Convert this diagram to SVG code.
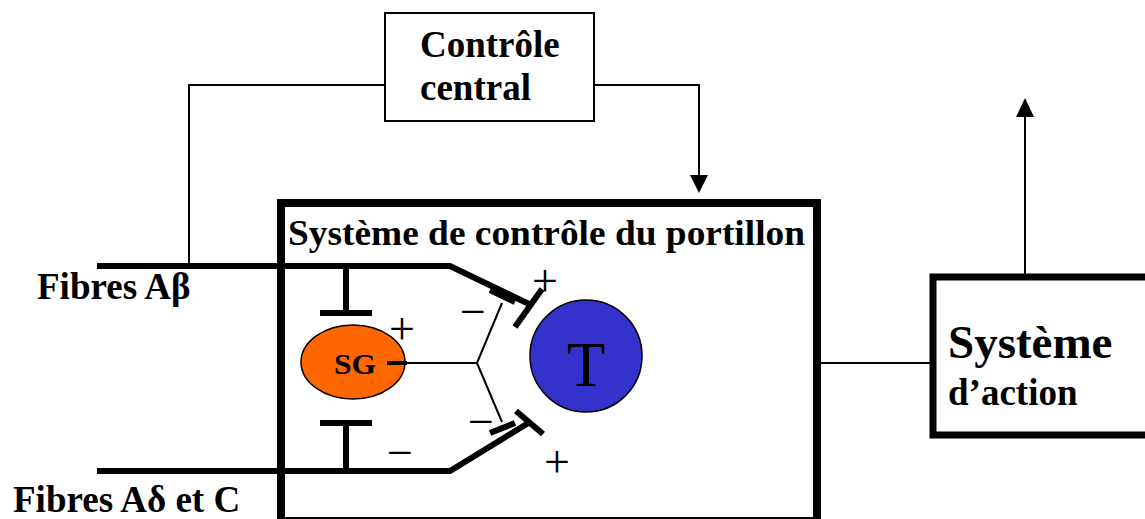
<svg xmlns="http://www.w3.org/2000/svg" width="1145" height="519" viewBox="0 0 1145 519">
<style>
.lbl{font-family:"Liberation Serif","Times New Roman",serif;font-weight:bold;fill:#000}
.sign{font-family:"Liberation Serif","Times New Roman",serif;font-size:46px;fill:#000;text-anchor:middle}
.thin{stroke:#000;stroke-width:2;fill:none}
.fib{stroke:#000;stroke-width:6;fill:none;stroke-linecap:butt}
</style>
<rect width="1145" height="519" fill="#fff"/>

<g id="connectors">
<polyline class="thin" points="385,85 189,85 189,266"/>
<polyline class="thin" points="594,85 699,85 699,176"/>
<path d="M690,175 L708,175 L699,193 Z" fill="#000"/>
<line class="thin" x1="821" y1="363" x2="933" y2="363"/>
<line class="thin" x1="1025" y1="277" x2="1025" y2="116"/>
<path d="M1016,117 L1034,117 L1025,98 Z" fill="#000"/>
</g>

<g id="controle-central">
<rect x="385" y="13" width="209" height="108" fill="#fff" stroke="#000" stroke-width="2"/>
<text class="lbl" x="420" y="57" font-size="37">Contrôle</text>
<text class="lbl" x="420" y="100" font-size="37">central</text>
</g>

<g id="portillon">
<rect x="281" y="203" width="536" height="318" fill="#fff" stroke="#000" stroke-width="8"/>
<text class="lbl" x="288" y="245" font-size="36" textLength="517" lengthAdjust="spacingAndGlyphs">Système de contrôle du portillon</text>
</g>

<g id="fibres-abeta">
<polyline class="fib" points="97,266 450,266 529,304"/>
<line class="fib" x1="515" y1="327" x2="542" y2="289" stroke-width="7"/>
<line class="fib" x1="490" y1="290" x2="515" y2="302" stroke-width="4"/>
<text class="lbl" x="37" y="299" font-size="37">Fibres Aβ</text>
</g>

<g id="fibres-adelta">
<polyline class="fib" points="97,471 450,471 530,422"/>
<line class="fib" x1="516" y1="411" x2="543" y2="434" stroke-width="7"/>
<line class="fib" x1="490" y1="433" x2="515" y2="423" stroke-width="4"/>
<text class="lbl" x="13" y="512" font-size="37">Fibres Aδ et C</text>
</g>

<g id="inhib-haut">
<line class="fib" x1="346" y1="266" x2="346" y2="313"/>
<line class="fib" x1="320" y1="313" x2="372" y2="313"/>
</g>
<g id="inhib-bas">
<line class="fib" x1="346" y1="423" x2="346" y2="471"/>
<line class="fib" x1="320" y1="423" x2="372" y2="423"/>
</g>

<g id="sg">
<ellipse cx="353" cy="362" rx="52" ry="37" fill="#FF6600" stroke="#000" stroke-width="1.5"/>
<text class="lbl" x="355" y="374" font-size="30" text-anchor="middle" textLength="42" lengthAdjust="spacingAndGlyphs">SG</text>
</g>

<g id="sg-branches">
<line x1="387" y1="363" x2="407" y2="363" stroke="#000" stroke-width="4"/>
<polyline class="thin" points="407,363 477,363 502,303"/>
<polyline class="thin" points="477,363 502,422"/>
</g>

<g id="t-cell">
<circle cx="586" cy="356" r="56" fill="#3333CC" stroke="#000" stroke-width="1.5"/>
<text x="586" y="386" font-family="Liberation Serif, Times New Roman, serif" font-size="63" text-anchor="middle" fill="#000">T</text>
</g>

<g id="signs">
<text class="sign" x="545" y="296">+</text>
<text class="sign" x="402" y="344">+</text>
<text class="sign" x="557" y="477">+</text>
<text class="sign" x="473" y="327">−</text>
<text class="sign" x="481" y="437">−</text>
<text class="sign" x="400" y="468">−</text>
</g>

<g id="action">
<rect x="933" y="277" width="220" height="158" fill="#fff" stroke="#000" stroke-width="7"/>
<text class="lbl" x="948" y="358" font-size="47">Système</text>
<text class="lbl" x="948" y="405" font-size="37">d’action</text>
</g>
</svg>
